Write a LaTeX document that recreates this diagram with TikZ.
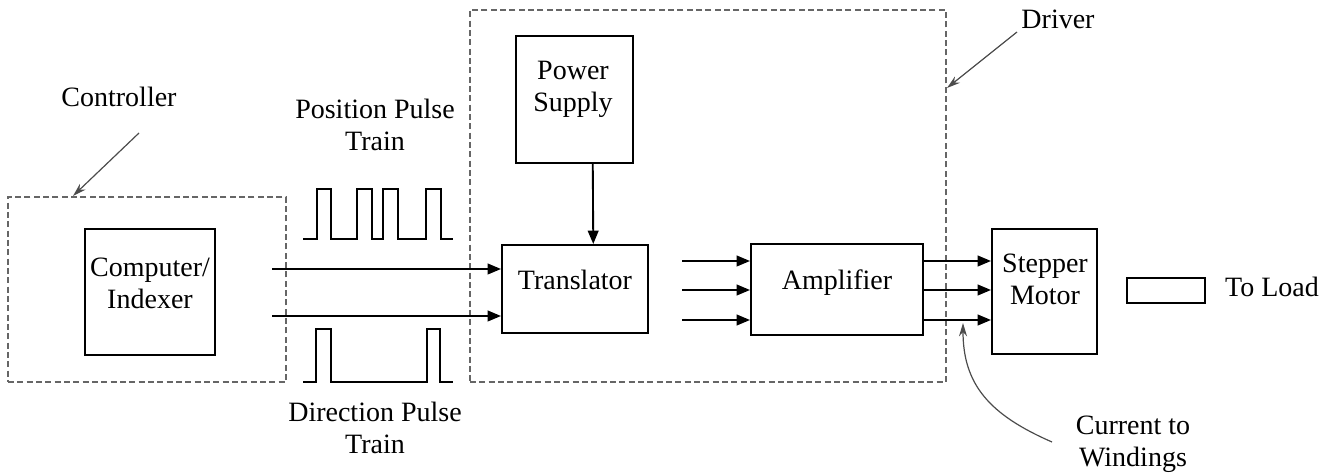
\documentclass[tikz,border=0pt]{standalone}
\usepackage{fontspec}
\setmainfont{Liberation Serif}
\usetikzlibrary{arrows.meta}
\begin{document}
\begin{tikzpicture}[x=0.75pt,y=-0.75pt,
  box/.style={draw,line width=1.5pt,inner sep=0pt},
  grp/.style={draw=black!60,dash pattern=on 4.5pt off 2.5pt,line width=0.8pt,inner sep=0pt},
  lbl/.style={font=\fontsize{21}{24}\selectfont,align=center,inner sep=0pt},
  sig/.style={line width=1.4pt,-{Triangle[length=10pt,width=8pt]}},
  pulse/.style={line width=1.6pt},
  pointer/.style={draw=black!70,line width=0.9pt,-{Stealth[length=10pt,width=6pt]}}]
\useasboundingbox (0,0) rectangle (1327,473);

% group boxes
\node[grp,minimum width=208.5pt,minimum height=138.75pt] (ctrlgrp) at (147,289.5) {};
\node[grp,minimum width=357pt,minimum height=279pt] (drvgrp) at (708,196) {};

% blocks
\node[box,minimum width=97.5pt,minimum height=94.5pt] (comp) at (150,292) {};
\node[box,minimum width=87.75pt,minimum height=95.25pt] (power) at (574.5,99.5) {};
\node[box,minimum width=109.5pt,minimum height=66pt] (trans) at (575,289) {};
\node[box,minimum width=129pt,minimum height=68.25pt] (amp) at (837,289.5) {};
\node[box,minimum width=78.75pt,minimum height=93.75pt] (step) at (1044.5,291.5) {};
\node[box,minimum width=58.5pt,minimum height=18.75pt] (load) at (1166,290.5) {};

% block texts
\node[lbl] (compL) at (150,283) {Computer/\\Indexer};
\node[lbl] (powerL) at (573,89) {Power\\Supply};
\node[lbl] (transL) at (575,280) {Translator};
\node[lbl] (ampL) at (837,283) {Amplifier};
\node[lbl] (stepL) at (1045,279) {Stepper\\Motor};
\node[lbl] (loadL) at (1272,287) {To Load};

% other labels
\node[lbl] (ctrlL) at (119,97) {Controller};
\node[lbl] (drvL) at (1058,19) {Driver};
\node[lbl] (posL) at (375,125) {Position Pulse\\Train};
\node[lbl] (dirL) at (375,428) {Direction Pulse\\Train};
\node[lbl] (curL) at (1133,444) {Current to\\Windings};

% pointers
\coordinate (ctrlP0) at (139,133);
\coordinate (ctrlP1) at (73,196);
\draw[pointer] (ctrlP0) -- (ctrlP1);
\coordinate (drvP0) at (1017,32);
\coordinate (drvP1) at (947,88);
\draw[pointer] (drvP0) -- (drvP1);
\coordinate (curP0) at (1052,442);
\coordinate (curP1) at (963,323);
\draw[pointer] (curP0) .. controls (990,415) and (963,385) .. (curP1);

% power supply to translator
\draw[sig] ([xshift=13.7pt]power.south) -- ([xshift=13.7pt]trans.north);

% controller to translator
\coordinate (in1) at (272,269);
\coordinate (in2) at (272,316);
\draw[sig] (in1) -- (in1 -| trans.west);
\draw[sig] (in2) -- (in2 -| trans.west);

% into amplifier
\coordinate (a1) at (682,261);
\coordinate (a2) at (682,290);
\coordinate (a3) at (682,320);
\draw[sig] (a1) -- (a1 -| amp.west);
\draw[sig] (a2) -- (a2 -| amp.west);
\draw[sig] (a3) -- (a3 -| amp.west);

% amplifier to motor
\draw[sig] (a1 -| amp.east) -- (a1 -| step.west);
\draw[sig] (a2 -| amp.east) -- (a2 -| step.west);
\draw[sig] (a3 -| amp.east) -- (a3 -| step.west);

% pulse trains
\draw[pulse] (303,239) -- (317,239) -- (317,189) -- (331,189) -- (331,239)
  -- (357,239) -- (357,189) -- (372,189) -- (372,239)
  -- (383,239) -- (383,189) -- (398,189) -- (398,239)
  -- (426,239) -- (426,189) -- (441,189) -- (441,239) -- (453,239);
\draw[pulse] (303,382) -- (316,382) -- (316,329) -- (331,329) -- (331,382)
  -- (427,382) -- (427,329) -- (440,329) -- (440,382) -- (453,382);
\end{tikzpicture}
\end{document}
